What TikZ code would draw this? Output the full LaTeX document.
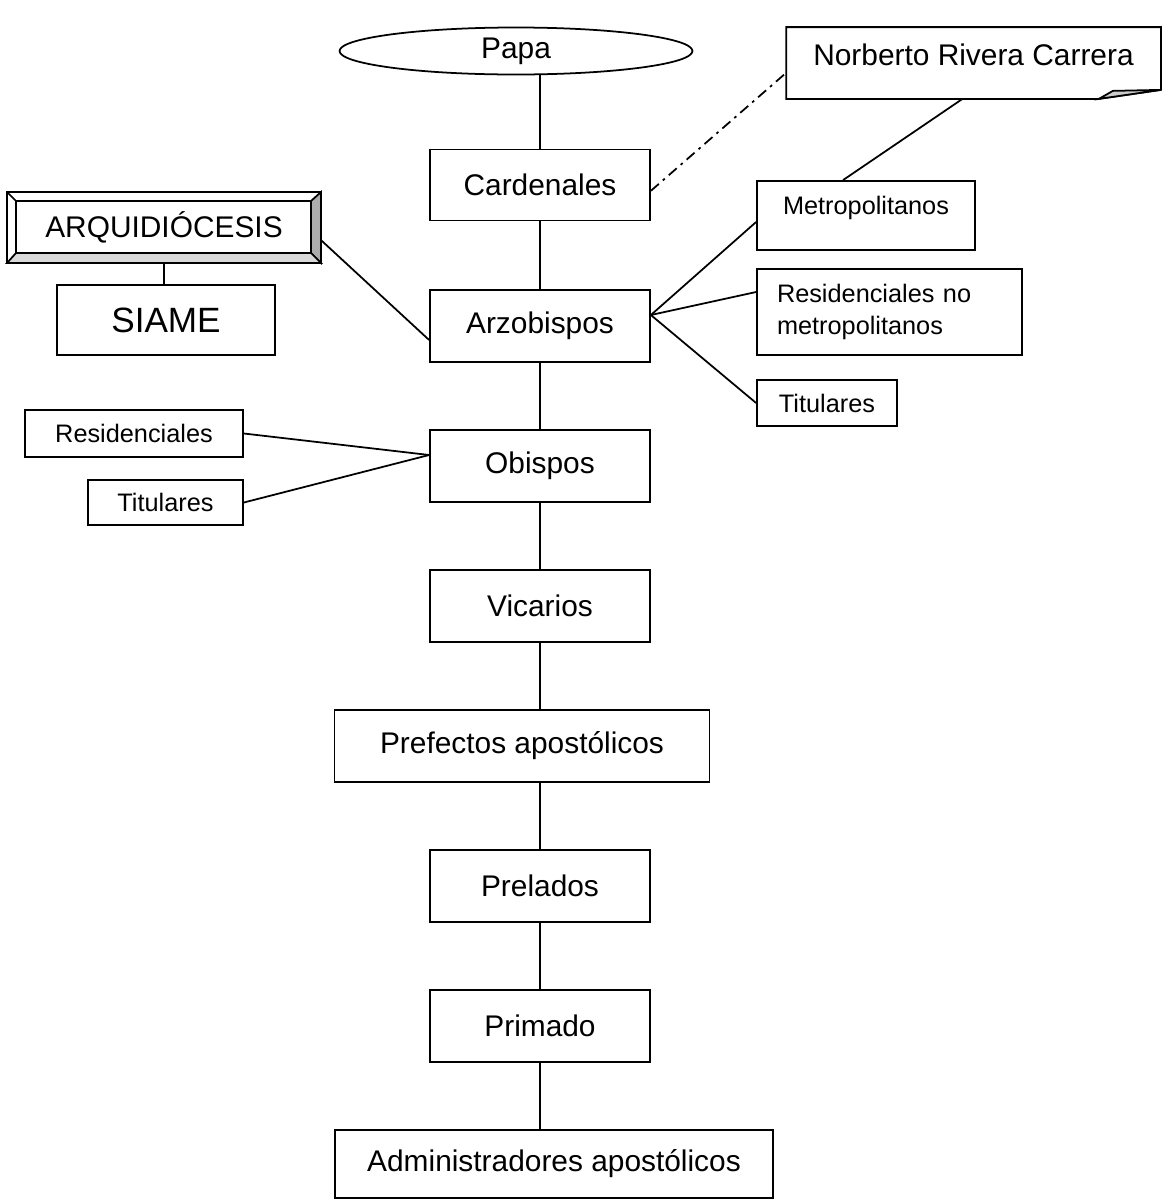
\documentclass[tikz,border=0pt]{standalone}
\usepackage{fontspec}
\setmainfont{Liberation Sans}
\usepackage{tikz}
\usetikzlibrary{shapes.geometric}
\usetikzlibrary{calc}
\newcommand{\bigtxt}{\fontsize{17}{20}\selectfont}
\newcommand{\smalltxt}{\fontsize{14.4}{18}\selectfont}

\begin{document}
\begin{tikzpicture}[line width=1pt,
    box/.style={rectangle,draw,minimum width=4.4cm,minimum height=1.42cm,inner sep=0pt,font=\bigtxt},
    smallbox/.style={rectangle,draw,inner sep=0pt,font=\smalltxt},
    dashdot/.style={dash pattern=on 6pt off 3pt on 1.5pt off 3pt}]
  \useasboundingbox (0,0) rectangle (23.24,-23.98);
  % main column
  \node[ellipse,draw,minimum width=7.06cm,minimum height=0.94cm,inner sep=0pt,font=\bigtxt] (Papa) at (10.32,-1.02) {Papa};
  \node[box] (Card) at (10.8,-3.7) {Cardenales};
  \node[box,minimum height=1.44cm] (Arz) at (10.8,-6.52) {Arzobispos};
  \node[box,minimum height=1.44cm] (Obi) at (10.8,-9.32) {Obispos};
  \node[box,minimum height=1.44cm] (Vic) at (10.8,-12.12) {Vicarios};
  \node[box,minimum width=7.5cm,minimum height=1.44cm] (Pref) at (10.44,-14.92) {Prefectos apostólicos};
  \node[box,minimum height=1.44cm] (Prel) at (10.8,-17.72) {Prelados};
  \node[box,minimum height=1.44cm] (Prim) at (10.8,-20.52) {Primado};
  \node[box,minimum width=8.76cm,minimum height=1.36cm] (Admin) at (11.08,-23.28) {Administradores apostólicos};

  % note
  \node[minimum width=7.46cm,minimum height=1.4cm,inner sep=0pt,text depth=0.34cm,font=\bigtxt] (Norb) at (19.47,-1.26) {Norberto Rivera Carrera};
  \draw (Norb.north west) -- (Norb.north east) -- ([yshift=0.18cm]Norb.south east)
    -- ([xshift=-1.24cm]Norb.south east) -- (Norb.south west) -- cycle;
  \filldraw[fill=gray!40] ([xshift=-1.24cm]Norb.south east) -- ([xshift=-0.96cm,yshift=0.16cm]Norb.south east)
    -- ([yshift=0.18cm]Norb.south east) -- cycle;

  % right branches
  \node[smallbox,minimum width=4.36cm,minimum height=1.38cm,text depth=0.4cm] (Metro) at (17.32,-4.31) {Metropolitanos};
  \node[smallbox,minimum height=1.72cm,text width=4.5cm,inner xsep=0.4cm,align=left] (ResNM) at (17.79,-6.24) {Residenciales no metropolitanos};
  \node[smallbox,minimum width=2.8cm,minimum height=0.92cm] (TitR) at (16.54,-8.06) {Titulares};

  % left branches
  \node[rectangle,minimum width=6.24cm,minimum height=1.38cm,inner sep=0pt,font=\bigtxt] (Arq) at (3.28,-4.55) {ARQUIDIÓCESIS};
  \filldraw[fill=gray!65] (Arq.north east) -- (Arq.south east) -- ($(Arq.south east)+(-0.2,0.2)$) -- ($(Arq.north east)+(-0.2,-0.18)$) -- cycle;
  \filldraw[fill=gray!30] (Arq.south west) -- (Arq.south east) -- ($(Arq.south east)+(-0.2,0.2)$) -- ($(Arq.south west)+(0.18,0.2)$) -- cycle;
  \draw (Arq.north west) rectangle (Arq.south east);
  \draw ($(Arq.north west)+(0.18,-0.18)$) rectangle ($(Arq.south east)+(-0.2,0.2)$);
  \draw (Arq.north west) -- ++(0.18,-0.18);
  \node[rectangle,draw,minimum width=4.36cm,minimum height=1.4cm,inner sep=0pt,font=\fontsize{20}{24}\selectfont] (Siame) at (3.32,-6.4) {SIAME};
  \node[smallbox,minimum width=4.36cm,minimum height=0.94cm] (ResL) at (2.68,-8.67) {Residenciales};
  \node[smallbox,minimum width=3.1cm,minimum height=0.9cm] (TitL) at (3.31,-10.05) {Titulares};

  \path (Papa.south -| Card.north) edge (Card.north);
  \path (Card) edge (Arz);
  \path (Arz) edge (Obi);
  \path (Obi) edge (Vic);
  \path (Vic.south) edge (Vic.south |- Pref.north);
  \path (Vic.south |- Pref.south) edge (Prel.north);
  \path (Prel) edge (Prim);
  \path (Prim.south) edge (Prim.south |- Admin.north);

  \path[dashdot] (Card.-3.6) edge (Norb.183.7);
  \path ([xshift=-0.22cm]Norb.south) edge ([xshift=-0.46cm]Metro.north);
  \path ([yshift=0.22cm]Arz.east) edge ([yshift=-0.13cm]Metro.west);
  \path ([yshift=0.22cm]Arz.east) edge ([yshift=0.4cm]ResNM.west);
  \path ([yshift=0.22cm]Arz.east) edge (TitR.west);

  \path ([yshift=-0.25cm]Arq.east) edge ([yshift=-0.28cm]Arz.west);
  \path (Arq.south) edge (Arq.south |- Siame.north);
  \path (ResL.east) edge ([yshift=0.22cm]Obi.west);
  \path (TitL.east) edge ([yshift=0.22cm]Obi.west);
\end{tikzpicture}
\end{document}
